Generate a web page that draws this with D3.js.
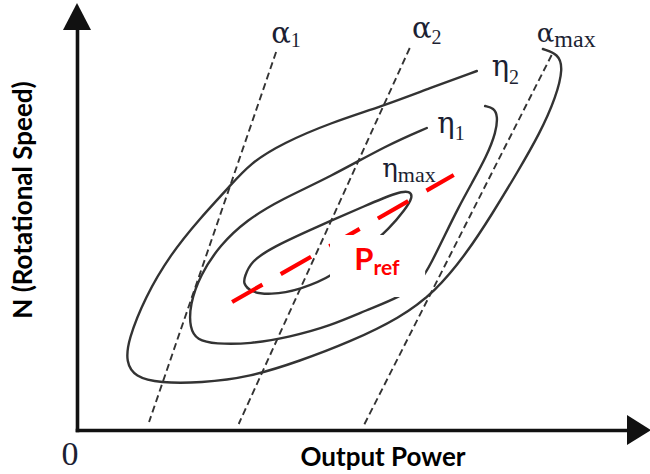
<!DOCTYPE html>
<html>
<head>
<meta charset="utf-8">
<script src="https://cdn.jsdelivr.net/npm/d3@7"></script>
<style>
  html, body { margin: 0; padding: 0; background: #fff; }
  svg { display: block; }
</style>
</head>
<body>
<svg id="chart" width="650" height="474"></svg>
<script>
// Turbine operating map, normalized units: output power 0–100 (across), rotational speed 0–100 (up).

// Efficiency contours
const etaMaxContour = [
  [30.5, 38.25], [31.5, 42], [35.6, 45.75], [43.6, 50.75], [52.7, 56.25], [58.4, 59.5],
  [60.5, 59.75], [61.1, 58.25], [59.6, 55], [56.9, 50.5], [52.4, 45], [46.9, 38.75],
  [40.5, 35], [35.1, 33.75], [31.5, 34.5], [30.2, 36.75]
];
const eta1Contour = [
  [63.6, 75.5], [56.4, 71.25], [46, 63.25], [36.9, 57.5], [30.9, 52.5], [26, 46.25],
  [22.4, 38.75], [20.5, 31.25], [20.5, 25.5], [21.8, 22.5], [25.1, 21.5], [31.5, 21.5],
  [38.7, 23.25], [46, 26], [52.7, 30], [58.7, 33.25], [62.4, 36.75], [64.5, 42],
  [66.9, 48.75], [69.3, 55.5], [71.8, 61.75], [74.5, 68.5], [76.2, 74.5], [76.5, 78.5],
  [75.8, 80.5], [74.2, 81]
];
const eta2Contour = [
  [72.7, 89.75], [64.2, 85.5], [55.6, 81], [46, 76.75], [37.5, 71.75], [31.5, 66.75],
  [27.5, 60.5], [22.4, 53], [16.9, 43.75], [12.4, 33.25], [9.3, 22.5], [8.9, 17],
  [10.5, 13.25], [15.1, 11.75], [22.4, 11.75], [31.5, 13.25], [40.5, 17.25], [49.6, 22],
  [58.7, 28], [65.1, 34.5], [70.9, 44.25], [75.6, 54.25], [80, 64.25], [84.2, 74.25],
  [87.1, 83.25], [88.4, 90.5], [87.5, 94], [84.7, 95.25]
];

// Constant blade-angle lines
const alpha1Line = [[36.2, 94.5], [13.1, 2]];
const alpha2Line = [[60.5, 95.5], [29.4, 1.5]];
const alphaMaxLine = [[86.3, 93.75], [52, 0.75]];

// Reference power trajectory
const pRefLine = [[28.2, 32], [68.5, 63.75]];

// Symbol labels: symbol, subscript
const contourNames = [["η", "2"], ["η", "1"], ["η", "max"]];
const angleNames = [["α", "1"], ["α", "2"], ["α", "max"]];

const svg = d3.select("#chart");

const x = d3.scaleLinear().domain([0, 100]).range([77, 627]);
const y = d3.scaleLinear().domain([0, 100]).range([430, 30]);

const line = d3.line().x(d => x(d[0])).y(d => y(d[1]));
const smooth = d3.line().x(d => x(d[0])).y(d => y(d[1])).curve(d3.curveBasis);
const smoothClosed = d3.line().x(d => x(d[0])).y(d => y(d[1])).curve(d3.curveBasisClosed);

// Blade-angle lines (dashed)
svg.append("g")
  .selectAll("path")
  .data([alpha1Line, alpha2Line, alphaMaxLine])
  .join("path")
  .attr("d", line)
  .attr("fill", "none")
  .attr("stroke", "#333")
  .attr("stroke-width", 1.9)
  .attr("stroke-dasharray", "7,4");

// Efficiency contours
const contours = svg.append("g")
  .attr("fill", "none")
  .attr("stroke", "#333")
  .attr("stroke-width", 2.4)
  .attr("stroke-linecap", "round");
contours.append("path").attr("d", smooth(eta2Contour));
contours.append("path").attr("d", smooth(eta1Contour));
contours.append("path").attr("d", smoothClosed(etaMaxContour));

// Reference power line
svg.append("path")
  .attr("d", line(pRefLine))
  .attr("fill", "none")
  .attr("stroke", "#ff0000")
  .attr("stroke-width", 4.2)
  .attr("stroke-dasharray", "35,21");

// P_ref tag on a white card
const card = { x0: 46, x1: 63.3, y0: 33.25, y1: 48.75 };
svg.append("rect")
  .attr("x", x(card.x0)).attr("y", y(card.y1))
  .attr("width", x(card.x1) - x(card.x0))
  .attr("height", y(card.y0) - y(card.y1))
  .attr("fill", "#fff");
const pref = svg.append("text")
  .attr("x", x(50.4)).attr("y", y(40))
  .attr("font-family", "Lato, 'Open Sans', sans-serif")
  .attr("font-weight", 700)
  .attr("fill", "#ff0000");
pref.append("tspan").attr("font-size", 31).text("P");
pref.append("tspan").attr("font-size", 21).attr("dy", 5).text("ref");

// Greek symbol labels
function symbolLabel(name, px, py, size, subSize, dy) {
  const t = svg.append("text")
    .attr("x", x(px)).attr("y", y(py))
    .attr("fill", "#1c1f33");
  t.append("tspan")
    .attr("font-family", "'DejaVu Serif', serif")
    .attr("font-size", size)
    .text(name[0]);
  t.append("tspan")
    .attr("font-family", "'Liberation Serif', 'Times New Roman', serif")
    .attr("font-size", subSize)
    .attr("dy", dy)
    .text(name[1]);
}
symbolLabel(angleNames[0], 35.3, 96.75, 29, 20, 4);
symbolLabel(angleNames[1], 60.9, 97.9, 29, 20, 6);
symbolLabel(angleNames[2], 83.6, 97, 26, 24, 5);
symbolLabel(contourNames[0], 75.4, 88.6, 29, 20, 8);
symbolLabel(contourNames[1], 65.5, 74.3, 29, 20, 7);
symbolLabel(contourNames[2], 55.5, 63.3, 26, 22, 5);

// Axes without ticks, finished with arrowheads
const axisStroke = "#111";
svg.append("g")
  .attr("transform", `translate(0,${y(0)})`)
  .call(d3.axisBottom(x).tickValues([]).tickSizeOuter(0));
svg.append("g")
  .attr("transform", `translate(${x(0)},0)`)
  .call(d3.axisLeft(y).tickValues([]).tickSizeOuter(0));
svg.selectAll(".domain")
  .attr("stroke", axisStroke)
  .attr("stroke-width", 3.6)
  .attr("stroke-linecap", "square");

svg.append("path")
  .attr("d", `M${x(100)},${y(0) - 15}L${x(100) + 24},${y(0)}L${x(100)},${y(0) + 15}Z`)
  .attr("fill", axisStroke);
svg.append("path")
  .attr("d", `M${x(0) - 14},${y(100)}L${x(0)},${y(100) - 27}L${x(0) + 14},${y(100)}Z`)
  .attr("fill", axisStroke);

// Origin and axis titles
svg.append("text")
  .attr("x", x(0) - 7).attr("y", 465)
  .attr("text-anchor", "middle")
  .attr("font-family", "'Liberation Serif', 'Times New Roman', serif")
  .attr("font-size", 34)
  .attr("fill", "#1c1f33")
  .text("0");

svg.append("text")
  .attr("x", 383).attr("y", 466)
  .attr("text-anchor", "middle")
  .attr("font-family", "Lato, 'Open Sans', sans-serif")
  .attr("font-weight", 700)
  .attr("font-size", 26)
  .attr("fill", "#000")
  .text("Output Power");

svg.append("text")
  .attr("transform", "translate(32,200) rotate(-90)")
  .attr("text-anchor", "middle")
  .attr("font-family", "Lato, 'Open Sans', sans-serif")
  .attr("font-weight", 700)
  .attr("font-size", 26)
  .attr("fill", "#000")
  .text("N (Rotational Speed)");
</script>
</body>
</html>
